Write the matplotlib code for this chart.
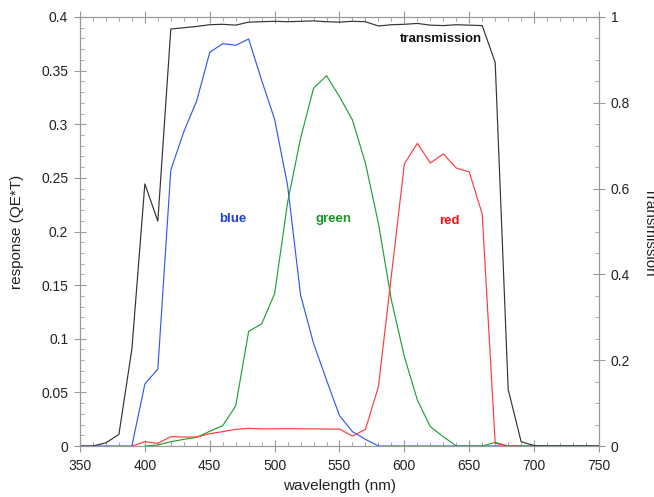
import numpy as np
import matplotlib
matplotlib.use('Agg')
import matplotlib.pyplot as plt
from matplotlib.ticker import MultipleLocator, FormatStrFormatter

plt.rcParams['font.family'] = ['Liberation Sans', 'DejaVu Sans']

# wavelength grid (nm), 10 nm steps
wl = np.arange(350, 760, 10)

# filter transmission (0..1, right axis)
trans = [0, 0, 0.0075, 0.027, 0.226, 0.611, 0.524, 0.972, 0.975, 0.978,
         0.982, 0.983, 0.981, 0.988, 0.989, 0.990, 0.989, 0.990, 0.991, 0.989,
         0.988, 0.990, 0.989, 0.979, 0.982, 0.983, 0.985, 0.981, 0.980, 0.982,
         0.981, 0.980, 0.894, 0.132, 0.010, 0.001, 0, 0, 0, 0, 0]

# response (QE*T) per channel, left axis
blue = [0, 0, 0, 0, 0, 0.0578, 0.0718, 0.2573, 0.293, 0.322,
        0.367, 0.3752, 0.3736, 0.3795, 0.341, 0.3046, 0.243, 0.1408, 0.0957, 0.0615,
        0.0283, 0.0134, 0.0062, 0, 0, 0, 0, 0, 0, 0,
        0, 0, 0, 0, 0, 0, 0, 0, 0, 0, 0]
green_wl = wl[5:]
green = [0, 0.001, 0.004, 0.0062, 0.0081, 0.0137, 0.019, 0.0373, 0.107, 0.1138,
         0.142, 0.227, 0.287, 0.3335, 0.3453, 0.3257, 0.304, 0.2636, 0.2076, 0.136,
         0.0833, 0.0429, 0.018, 0.0087, 0, 0, 0, 0.0034, 0, 0,
         0, 0, 0, 0, 0, 0]
red_wl = wl[4:35]
red = [0, 0.004, 0.0025, 0.0087, 0.0084, 0.0084, 0.0115, 0.0134, 0.0155, 0.0165,
       0.016, 0.016, 0.0162, 0.016, 0.016, 0.0158, 0.0158, 0.0093, 0.0155, 0.0553,
       0.159, 0.263, 0.2822, 0.2639, 0.2723, 0.2592, 0.2555, 0.2163, 0.0025, 0, 0]

frame = '#9a9a9a'
fig = plt.figure(figsize=(6.54, 4.97), dpi=100)
ax = fig.add_axes([0.1223, 0.1026, 0.7936, 0.8632])
ax2 = ax.twinx()

ax.plot(wl, blue, color='#2e5bf0', lw=0.85)
ax.plot(green_wl, green, color='#22a033', lw=0.85)
ax.plot(red_wl, red, color='#ff3b3b', lw=0.85)
ax2.plot(wl, trans, color='#333333', lw=0.85)

ax.set_xlim(350, 750)
ax.set_ylim(0, 0.4)
ax2.set_ylim(0, 1)

ax.xaxis.set_major_locator(MultipleLocator(50))
ax.xaxis.set_minor_locator(MultipleLocator(10))
ax.yaxis.set_major_locator(MultipleLocator(0.05))
ax.yaxis.set_minor_locator(MultipleLocator(0.01))
ax.yaxis.set_major_formatter(FormatStrFormatter('%g'))
ax2.yaxis.set_major_locator(MultipleLocator(0.2))
ax2.yaxis.set_minor_locator(MultipleLocator(0.05))
ax2.yaxis.set_major_formatter(FormatStrFormatter('%g'))

for a in (ax, ax2):
    for s in a.spines.values():
        s.set_color(frame)
        s.set_linewidth(0.8)
ax.tick_params(axis='x', which='major', direction='inout', length=9, pad=5,
               top=True, color=frame, labelsize=10, labelcolor='#222222')
ax.tick_params(axis='x', which='minor', direction='in', length=3, top=True, color=frame)
ax.tick_params(axis='y', which='major', direction='inout', length=9, pad=4,
               right=False, color=frame, labelsize=10, labelcolor='#222222')
ax.tick_params(axis='y', which='minor', direction='in', length=3, right=False, color=frame)
ax2.tick_params(axis='y', which='major', direction='inout', length=9, pad=4,
                color=frame, labelsize=10, labelcolor='#222222')
ax2.tick_params(axis='y', which='minor', direction='in', length=3, color=frame)

ax.set_xlabel('wavelength (nm)', fontsize=11, color='#222222')
ax.set_ylabel('response (QE*T)', fontsize=11, color='#222222')
ax.yaxis.set_label_coords(-0.108, 0.5)
ax2.set_ylabel('Transmission', fontsize=11, color='#222222', rotation=270, va='bottom')
ax2.yaxis.set_label_coords(1.085, 0.5)

# curve names
ax.text(468, 0.212, 'blue', color='#1a3ee0', fontsize=9.5, fontweight='bold', ha='center', va='center')
ax.text(545, 0.212, 'green', color='#119a1e', fontsize=9.5, fontweight='bold', ha='center', va='center')
ax.text(635, 0.210, 'red', color='#ff1010', fontsize=9.5, fontweight='bold', ha='center', va='center')
ax.text(628, 0.3792, 'transmission', color='#111111', fontsize=9.5, fontweight='bold',
        ha='center', va='center', zorder=5)

fig.savefig('out.png', dpi=100)
